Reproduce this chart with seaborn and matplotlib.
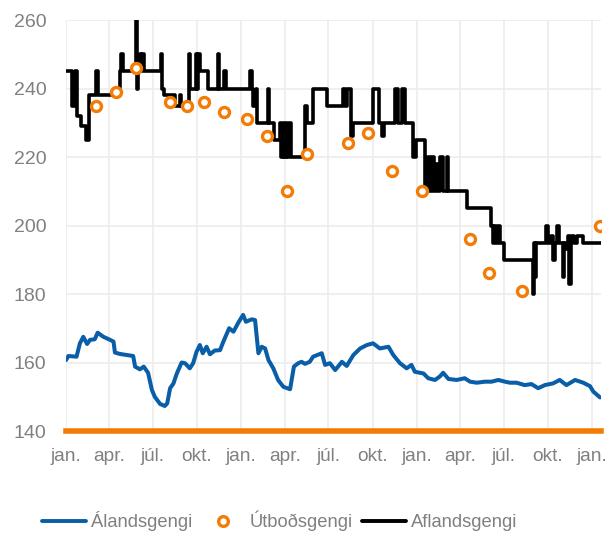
import pandas as pd
import matplotlib
matplotlib.use("Agg")
import matplotlib.pyplot as plt
from matplotlib.lines import Line2D
import seaborn as sns

sns.set_style('whitegrid')
plt.rcParams['font.family'] = ['Liberation Sans', 'DejaVu Sans']

blue = "#0a5ea8"
orange = "#f27c05"
grey = "#808080"

# Álandsgengi (onshore rate)
onshore_dates = [
    "2011-01-01", "2011-01-06", "2011-01-23", "2011-01-30", "2011-02-06", "2011-02-14",
    "2011-02-20", "2011-03-02", "2011-03-08", "2011-03-20", "2011-04-03", "2011-04-10",
    "2011-04-13", "2011-04-23", "2011-05-07", "2011-05-21", "2011-05-25", "2011-06-04",
    "2011-06-12", "2011-06-21", "2011-06-29", "2011-07-05", "2011-07-16", "2011-07-26",
    "2011-07-31", "2011-08-06", "2011-08-13", "2011-08-20", "2011-08-30", "2011-09-06",
    "2011-09-16", "2011-09-23", "2011-09-30", "2011-10-07", "2011-10-13", "2011-10-21",
    "2011-10-28", "2011-11-07", "2011-11-18", "2011-11-25", "2011-12-07", "2011-12-16",
    "2011-12-26", "2012-01-05", "2012-01-11", "2012-01-23", "2012-01-30", "2012-02-06",
    "2012-02-13", "2012-02-20", "2012-02-27", "2012-03-08", "2012-03-18", "2012-03-29",
    "2012-04-12", "2012-04-20", "2012-04-29", "2012-05-06", "2012-05-13", "2012-05-23",
    "2012-05-30", "2012-06-17", "2012-06-24", "2012-07-04", "2012-07-15", "2012-07-29",
    "2012-08-08", "2012-08-22", "2012-09-05", "2012-09-19", "2012-10-02", "2012-10-16",
    "2012-11-03", "2012-11-13", "2012-11-27", "2012-12-11", "2012-12-21", "2012-12-28",
    "2013-01-15", "2013-01-25", "2013-02-08", "2013-02-18", "2013-02-25", "2013-03-08",
    "2013-03-25", "2013-04-11", "2013-04-22", "2013-05-06", "2013-05-23", "2013-06-06",
    "2013-06-20", "2013-07-04", "2013-07-14", "2013-07-28", "2013-08-14", "2013-08-28",
    "2013-09-11", "2013-09-25", "2013-10-12", "2013-10-26", "2013-11-09", "2013-11-27",
    "2013-12-14", "2013-12-28", "2014-01-04", "2014-01-18",
]
onshore_values = [
    160.7, 161.9, 161.7, 165.6, 167.5, 165.4,
    166.6, 166.8, 168.7, 167.5, 166.6, 166.1,
    162.9, 162.5, 162.2, 161.9, 158.8, 158.0,
    158.8, 157.0, 152.0, 150.0, 147.9, 147.3,
    148.1, 152.5, 153.9, 156.8, 160.0, 159.8,
    158.3, 159.8, 163.1, 165.1, 162.7, 164.6,
    162.4, 163.5, 163.6, 166.1, 170.0, 169.0,
    171.6, 173.9, 171.9, 172.6, 172.4, 162.7,
    164.6, 164.1, 160.7, 158.3, 154.9, 152.9,
    152.2, 158.8, 159.8, 160.2, 159.6, 160.2,
    161.7, 162.7, 159.3, 159.8, 157.8, 160.2,
    159.0, 162.2, 164.1, 165.1, 165.6, 164.1,
    164.6, 162.2, 159.8, 158.3, 159.3, 157.3,
    156.8, 155.4, 154.9, 155.9, 157.0, 155.2,
    154.9, 155.4, 154.4, 154.1, 154.4, 154.4,
    154.9, 154.4, 154.1, 154.1, 153.4, 153.7,
    152.5, 153.4, 153.9, 154.9, 153.4, 154.9,
    154.1, 153.1, 151.5, 149.8,
]

# Aflandsgengi (offshore rate), step changes
offshore_dates = [
    "2011-01-01", "2011-01-14", "2011-01-20", "2011-01-24", "2011-02-01", "2011-02-12",
    "2011-02-18", "2011-03-04", "2011-03-08", "2011-04-23", "2011-04-26", "2011-04-29",
    "2011-05-26", "2011-05-29", "2011-06-01", "2011-06-04", "2011-06-06", "2011-06-09",
    "2011-06-12", "2011-07-17", "2011-07-21", "2011-07-25", "2011-08-16", "2011-08-26",
    "2011-08-29", "2011-09-14", "2011-09-17", "2011-09-28", "2011-10-01", "2011-10-03",
    "2011-10-07", "2011-10-24", "2011-11-13", "2011-11-16", "2011-11-26", "2011-12-01",
    "2012-01-19", "2012-01-23", "2012-01-26", "2012-02-01", "2012-02-03", "2012-02-26",
    "2012-02-29", "2012-03-09", "2012-03-22", "2012-03-25", "2012-03-28", "2012-03-31",
    "2012-04-03", "2012-04-06", "2012-04-10", "2012-04-13", "2012-05-14", "2012-05-17",
    "2012-05-30", "2012-06-28", "2012-07-31", "2012-08-05", "2012-08-09", "2012-08-16",
    "2012-08-18", "2012-08-21", "2012-10-01", "2012-10-15", "2012-10-21", "2012-10-24",
    "2012-11-17", "2012-11-23", "2012-12-01", "2012-12-08", "2012-12-24", "2012-12-30",
    "2013-01-18", "2013-01-24", "2013-01-29", "2013-02-02", "2013-02-06", "2013-02-10",
    "2013-02-14", "2013-02-18", "2013-02-25", "2013-03-05", "2013-03-08", "2013-04-15",
    "2013-06-05", "2013-06-08", "2013-06-11", "2013-06-15", "2013-06-19", "2013-06-23",
    "2013-07-02", "2013-08-31", "2013-09-03", "2013-09-05", "2013-09-07", "2013-09-28",
    "2013-10-01", "2013-10-08", "2013-10-12", "2013-10-16", "2013-10-20", "2013-10-24",
    "2013-11-01", "2013-11-04", "2013-11-08", "2013-11-12", "2013-11-15", "2013-11-18",
    "2013-11-25", "2013-12-01", "2013-12-13", "2014-01-20",
]
offshore_values = [
    245, 235, 245, 232, 229, 225,
    238, 245, 238, 245, 250, 245,
    260, 240, 245, 250, 245, 250,
    245, 250, 240, 238, 235, 238,
    235, 250, 240, 250, 240, 250,
    245, 240, 250, 240, 245, 240,
    245, 240, 235, 240, 230, 240,
    230, 225, 230, 220, 230, 220,
    230, 220, 230, 220, 235, 230,
    240, 235, 240, 235, 240, 230,
    226, 230, 240, 230, 226, 230,
    240, 230, 240, 230, 220, 225,
    210, 220, 210, 220, 210, 218,
    210, 220, 210, 220, 210, 205,
    200, 195, 200, 195, 200, 195,
    190, 180, 195, 185, 195, 200,
    195, 197, 190, 195, 200, 195,
    185, 195, 193, 197, 183, 197,
    195, 197, 195, 195,
]

# Útboðsgengi (auction rate)
auction_dates = [
    "2011-03-04", "2011-04-15", "2011-05-27", "2011-08-06", "2011-09-11", "2011-10-15",
    "2011-11-26", "2012-01-13", "2012-02-24", "2012-04-06", "2012-05-18", "2012-08-10",
    "2012-09-21", "2012-11-10", "2013-01-11", "2013-04-21", "2013-06-01", "2013-08-09",
    "2014-01-18",
]
auction_values = [
    235, 239, 246, 236, 235, 236,
    233, 231, 226, 210, 221, 224,
    227, 216, 210, 196, 186, 181,
    200,
]

tick_dates = pd.date_range("2011-01-01", "2014-01-01", freq="QS")
tick_labels = ["jan.", "apr.", "júl.", "okt."] * 3 + ["jan."]

fig = plt.figure(figsize=(6.1, 5.33), dpi=100)
ax = fig.add_axes([66 / 610, 1 - 431 / 533, 535 / 610, 411 / 533])

sns.lineplot(x=pd.to_datetime(offshore_dates), y=offshore_values, ax=ax,
             color="black", lw=2.6, drawstyle="steps-post", zorder=3)
sns.lineplot(x=pd.to_datetime(onshore_dates), y=onshore_values, ax=ax,
             color=blue, lw=2.9, zorder=3)
sns.scatterplot(x=pd.to_datetime(auction_dates), y=auction_values, ax=ax,
                marker="o", s=52, facecolor="white", edgecolor=orange,
                linewidth=2.4, zorder=5)

ax.set_xlim(pd.Timestamp("2011-01-01"), pd.Timestamp("2014-01-20"))
ax.set_ylim(140, 260)
ax.set_yticks(range(140, 261, 20))
ax.set_xticks(tick_dates)
ax.set_xticklabels(tick_labels)
ax.set_xlabel("")
ax.set_ylabel("")

ax.grid(True, color="#ececec", lw=1.2)
for side in ["left", "right", "top"]:
    ax.spines[side].set_visible(False)
ax.spines["bottom"].set_color(orange)
ax.spines["bottom"].set_linewidth(4)
ax.spines["bottom"].set_zorder(6)

ax.tick_params(axis="y", length=0, pad=14, labelsize=14, labelcolor=grey)
ax.tick_params(axis="x", length=0, pad=12, labelsize=13.8, labelcolor=grey)

handles = [
    Line2D([], [], color=blue, lw=2.8),
    Line2D([], [], ls="none", marker="o", ms=7, mfc="white", mec=orange, mew=2.4),
    Line2D([], [], color="black", lw=2.8),
]
leg = fig.legend(handles, ["Álandsgengi", "Útboðsgengi", "Aflandsgengi"],
                 loc="center left", bbox_to_anchor=(0.042, 1 - 521 / 533),
                 ncol=3, frameon=False, fontsize=13.2, handlelength=2.4,
                 handletextpad=0.25, columnspacing=0.5)
for t in leg.get_texts():
    t.set_color(grey)

fig.savefig("out.png", dpi=100)
